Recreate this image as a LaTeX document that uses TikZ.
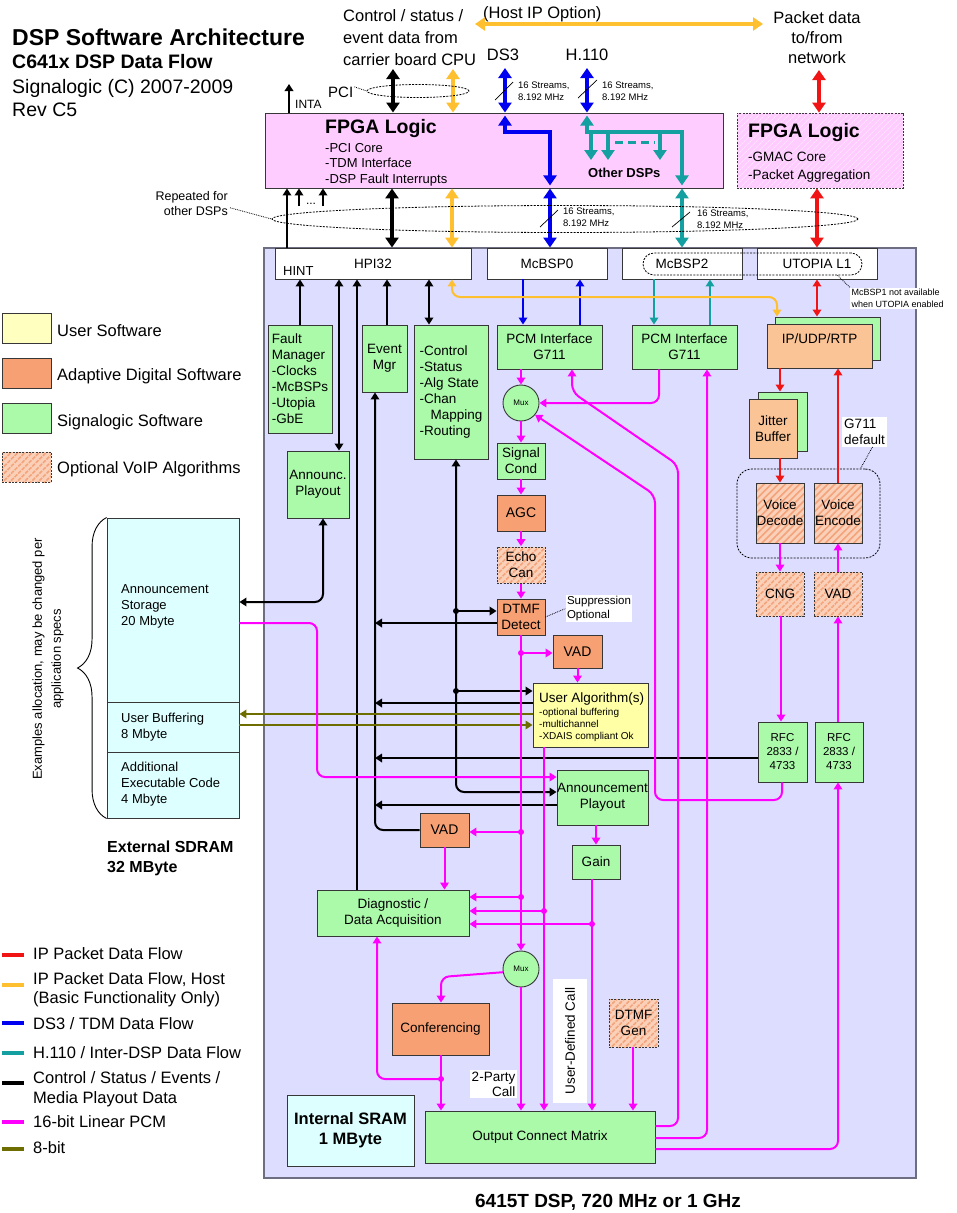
\documentclass[tikz,border=0pt]{standalone}
\usepackage{fontspec}
\setmainfont{Liberation Sans}
\usetikzlibrary{arrows.meta,patterns.meta,decorations.pathreplacing,calc,shapes.geometric}
\newcommand{\fz}[2]{\fontsize{#1}{#2}\selectfont}
\definecolor{sgreen}{RGB}{170,250,170}
\definecolor{adorange}{RGB}{247,160,115}
\definecolor{peach}{RGB}{250,196,150}
\definecolor{hatchbg}{RGB}{251,208,184}
\definecolor{hatchln}{RGB}{243,162,122}
\definecolor{uyellow}{RGB}{255,255,165}
\definecolor{lav}{RGB}{221,221,255}
\definecolor{lcyan}{RGB}{221,255,255}
\definecolor{fpink}{RGB}{255,204,255}
\definecolor{fpinkln}{RGB}{255,228,255}
\definecolor{cred}{RGB}{240,20,20}
\definecolor{cyel}{RGB}{255,192,48}
\definecolor{cblue}{RGB}{0,0,240}
\definecolor{cteal}{RGB}{20,160,160}
\definecolor{cmag}{RGB}{255,0,255}
\definecolor{colive}{RGB}{110,110,0}
\definecolor{bord}{RGB}{55,55,55}
\definecolor{dspb}{RGB}{110,110,130}
\tikzset{
  txt/.style={inner sep=0pt, anchor=base west},
  txc/.style={inner sep=0pt, anchor=base},
  txe/.style={inner sep=0pt, anchor=base east},
  bx/.style={draw=bord, line width=0.9pt, inner sep=0pt, align=center, font=\fz{13.5}{16}},
  gbox/.style={bx, fill=sgreen},
  obox/.style={bx, fill=adorange},
  pbox/.style={bx, fill=peach},
  ybox/.style={bx, fill=uyellow},
  wbox/.style={bx, fill=white},
  cbox/.style={bx, fill=lcyan},
  hbox/.style={bx, preaction={fill=hatchbg}, pattern={Lines[angle=45,distance=5pt,line width=1.6pt]}, pattern color=hatchln},
  dbord/.style={dash pattern=on 2pt off 1.3pt},
  arr/.style={-{Triangle[length=7pt,width=8.5pt]}},
  arr2/.style={{Triangle[length=7pt,width=8.5pt]}-{Triangle[length=7pt,width=8.5pt]}},
  tarr/.style={-{Triangle[length=10pt,width=13pt]}},
  tarr2/.style={{Triangle[length=10pt,width=13pt]}-{Triangle[length=10pt,width=13pt]}},
  blk/.style={line width=2pt, draw=black},
  mg/.style={line width=2pt, draw=cmag},
  rd/.style={line width=2pt, draw=cred},
  yl/.style={line width=2pt, draw=cyel},
  bl/.style={line width=2pt, draw=cblue},
  tl/.style={line width=2pt, draw=cteal},
  olv/.style={line width=2pt, draw=colive},
  thk/.style={line width=4pt},
  lgline/.style={line width=3.5pt},
  rc/.style={rounded corners=8pt},
}
\begin{document}
\begin{tikzpicture}[x=1pt,y=-1pt]
\fill[white] (0,0) rectangle (956,1213);
\path[use as bounding box] (0,0) rectangle (956,1213);

% ---------- titles ----------
\node[txt, font=\fz{23}{26}\bfseries] (t1) at (12,45) {DSP Software Architecture};
\node[txt, font=\fz{19.5}{22}\bfseries] (t2) at (12,68) {C641x DSP Data Flow};
\node[txt, font=\fz{19.5}{22}] (t3) at (12,93) {Signalogic (C) 2007-2009};
\node[txt, font=\fz{19.5}{22}] (t4) at (12,116) {Rev C5};

\node[txt, font=\fz{16.5}{20}] (c1) at (343,21) {Control / status /};
\node[txt, font=\fz{16.5}{20}] (c2) at (343,43) {event data from};
\node[txt, font=\fz{16.5}{20}] (c3) at (343,65) {carrier board CPU};
\node[txt, font=\fz{16.5}{20}] (host) at (483,18) {(Host IP Option)};
\node[txc, font=\fz{16.5}{20}] (p1) at (817,23) {Packet data};
\node[txc, font=\fz{16.5}{20}] (p2) at (817,43) {to/from};
\node[txc, font=\fz{16.5}{20}] (p3) at (817,63) {network};
\node[txc, font=\fz{16.5}{20}] (ds3) at (503,60) {DS3};
\node[txc, font=\fz{16.5}{20}] (h110) at (587,60) {H.110};

% ---------- DSP background ----------
\node[draw=dspb, fill=lav, line width=1.5pt, minimum width=652pt, minimum height=930pt, inner sep=0pt] (dsp) at (590,713) {};
\node[txc, font=\fz{19}{22}\bfseries] (dspcap) at (608,1207) {6415T DSP, 720 MHz or 1 GHz};

% ---------- FPGA ----------
\node[bx, fill=fpink, minimum width=458pt, minimum height=75pt] (fpga) at (494,150.5) {};
\node[txt, font=\fz{19.5}{22}\bfseries] at (325,133) {FPGA Logic};
\node[txt, font=\fz{13}{15}] at (325,152) {-PCI Core};
\node[txt, font=\fz{13}{15}] at (325,167) {-TDM Interface};
\node[txt, font=\fz{13}{15}] at (325,183) {-DSP Fault Interrupts};
\node[txt, font=\fz{13}{15}\bfseries] (odsp) at (588,177) {Other DSPs};

\node[draw=bord, line width=0.9pt, dbord, preaction={fill=fpink}, pattern={Lines[angle=45,distance=4pt,line width=0.7pt]}, pattern color=fpinkln, minimum width=166pt, minimum height=75pt, inner sep=0pt] (fpga2) at (820,150.5) {};
\node[txt, font=\fz{19.5}{22}\bfseries] at (748,137) {FPGA Logic};
\node[txt, font=\fz{13.5}{16}] at (748,161) {-GMAC Core};
\node[txt, font=\fz{13.5}{16}] at (748,179) {-Packet Aggregation};

% ---------- interfaces ----------
\node[wbox, minimum width=196pt, minimum height=31pt] (hpi) at (373,263.5) {HPI32};
\node[txt, font=\fz{13}{15}] (hint) at (283,275) {HINT};
\node[wbox, minimum width=120pt, minimum height=31pt] (mcb0) at (547,263.5) {McBSP0};
\node[wbox, minimum width=120pt, minimum height=31pt] (mcb2) at (682,263.5) {McBSP2};
\node[wbox, minimum width=120pt, minimum height=31pt] (utop) at (817,263.5) {UTOPIA L1};
\node[draw=black, line width=0.8pt, dbord, rounded corners=11pt, minimum width=219pt, minimum height=22pt, inner sep=0pt] (stad) at (752.5,264) {};
\node[fill=white, inner sep=1.5pt, align=left, anchor=west, font=\fz{9}{12}] (mcnote) at (850,298.5) {McBSP1 not available\\when UTOPIA enabled};
\draw[densely dotted, line width=0.8pt] ($(stad.south)+(85,0)$) -- (mcnote.north west);

% ---------- left column ----------
\node[gbox, minimum width=64pt, minimum height=108pt, align=left] (fault) at (300,379) {Fault\\Manager\\-Clocks\\-McBSPs\\-Utopia\\-GbE};
\node[gbox, minimum width=62pt, minimum height=67pt] (annp) at (318,484.5) {Announc.\\Playout};
\node[gbox, minimum width=45pt, minimum height=67pt] (evt) at (384.5,358.5) {Event\\Mgr};
\node[gbox, minimum width=74pt, minimum height=134pt, align=left] (ctrl) at (451,392) {-Control\\-Status\\-Alg State\\-Chan\\\hspace*{11pt}Mapping\\-Routing};

% ---------- centre column ----------
\node[gbox, minimum width=105pt, minimum height=44pt] (pcml) at (549.5,347) {PCM Interface\\G711};
\node[gbox, minimum width=105pt, minimum height=44pt] (pcmr) at (684.5,347) {PCM Interface\\G711};
\node[gbox, circle, minimum size=36pt, font=\fz{8}{9}] (mux1) at (521,403) {Mux};
\node[gbox, minimum width=48pt, minimum height=36pt] (sig) at (521,461) {Signal\\Cond};
\node[obox, minimum width=48pt, minimum height=36pt, font=\fz{14}{16}] (agc) at (521,513) {AGC};
\node[hbox, dbord, minimum width=48pt, minimum height=36pt] (echo) at (521,565) {Echo\\Can};
\node[obox, minimum width=48pt, minimum height=36pt] (dtmfd) at (521,617) {DTMF\\Detect};
\node[obox, minimum width=49pt, minimum height=33pt, font=\fz{14}{16}] (vad1) at (577.5,651.5) {VAD};
\node[ybox, minimum width=115pt, minimum height=64pt] (ua) at (590.5,715) {};
\node[txt, font=\fz{13.5}{16}] at (539,702) {User Algorithm(s)};
\node[txt, font=\fz{10}{12}] at (539,715) {-optional buffering};
\node[txt, font=\fz{10}{12}] at (539,727) {-multichannel};
\node[txt, font=\fz{10}{12}] at (539,739) {-XDAIS compliant Ok};
\node[gbox, minimum width=91pt, minimum height=55pt] (annpl) at (602.5,797.5) {Announcement\\Playout};
\node[gbox, minimum width=48pt, minimum height=34pt] (gain) at (596,862) {Gain};
\node[obox, minimum width=49pt, minimum height=34pt, font=\fz{14}{16}] (vad2) at (444.5,830) {VAD};
\node[gbox, minimum width=152pt, minimum height=46pt] (diag) at (393,913) {Diagnostic /\\Data Acquisition};
\node[gbox, circle, minimum size=36pt, font=\fz{8}{9}] (mux2) at (521,969) {Mux};
\node[obox, minimum width=97pt, minimum height=52pt] (conf) at (440.5,1029) {Conferencing};
\node[hbox, dbord, minimum width=49pt, minimum height=48pt] (dtmfg) at (633.5,1023) {DTMF\\Gen};
\node[gbox, minimum width=230pt, minimum height=52pt] (ocm) at (540,1137) {Output Connect Matrix};
\node[cbox, minimum width=127pt, minimum height=71pt, font=\fz{16.5}{20}\bfseries] (sram) at (350.5,1130.5) {Internal SRAM\\1 MByte};
\node[fill=white, inner sep=1.5pt, align=left, font=\fz{11.5}{13.5}] (supp) at (599,608.5) {Suppression\\Optional};
\draw[densely dotted, line width=0.8pt] (dtmfd.east) -- (supp.west);
\node[fill=white, inner sep=1.5pt, align=right, font=\fz{13.5}{15}] (twop) at (493.5,1084) {2-Party\\Call};
\node[fill=white, rotate=90, inner sep=0pt, minimum width=124pt, minimum height=34pt, font=\fz{13.5}{16}] (udc) at (570,1041) {User-Defined Call};

% ---------- right column ----------
\node[gbox, minimum width=105pt, minimum height=43pt] (ipus) at (827.5,338.5) {};
\node[pbox, minimum width=105pt, minimum height=44pt] (ipu) at (819.5,346) {};
\node[txc, font=\fz{13.5}{16}] at (819.5,343) {IP/UDP/RTP};
\node[gbox, minimum width=49pt, minimum height=59pt] (jits) at (782.5,421.5) {};
\node[pbox, minimum width=48pt, minimum height=59pt] (jit) at (773,428.5) {Jitter\\Buffer};
\node[draw=black, line width=0.8pt, dbord, rounded corners=15pt, minimum width=143pt, minimum height=89pt, inner sep=0pt] (grp) at (808.5,513.5) {};
\node[hbox, minimum width=48pt, minimum height=60pt] (vdec) at (780,513) {Voice\\Decode};
\node[hbox, minimum width=48pt, minimum height=60pt] (venc) at (838,513) {Voice\\Encode};
\node[fill=white, inner sep=2pt, align=left, font=\fz{13.5}{16}] (g711) at (864.5,432) {G711\\default};
\draw[densely dotted, line width=0.8pt] ($(g711.south)+(8,0)$) -- ($(grp.north)+(52,0)$);
\node[hbox, dbord, minimum width=48pt, minimum height=44pt] (cng) at (780,594) {CNG};
\node[hbox, dbord, minimum width=48pt, minimum height=44pt] (vad3) at (838,594) {VAD};
\node[gbox, minimum width=49pt, minimum height=60pt, font=\fz{11.5}{14}] (rfc1) at (782.5,752) {RFC\\2833 /\\4733};
\node[gbox, minimum width=48pt, minimum height=60pt, font=\fz{11.5}{14}] (rfc2) at (839,752) {RFC\\2833 /\\4733};

% ---------- SDRAM ----------
\node[cbox, minimum width=132pt, minimum height=184pt] (sdr1) at (173,610) {};
\node[cbox, minimum width=132pt, minimum height=50pt] (sdr2) at (173,727) {};
\node[cbox, minimum width=132pt, minimum height=66pt] (sdr3) at (173,785) {};
\node[txt, font=\fz{13}{16}] at (121,593) {Announcement};
\node[txt, font=\fz{13}{16}] at (121,609) {Storage};
\node[txt, font=\fz{13}{16}] at (121,625) {20 Mbyte};
\node[txt, font=\fz{13}{16}] at (121,722) {User Buffering};
\node[txt, font=\fz{13}{16}] at (121,738) {8 Mbyte};
\node[txt, font=\fz{13}{16}] at (121,771) {Additional};
\node[txt, font=\fz{13}{16}] at (121,787) {Executable Code};
\node[txt, font=\fz{13}{16}] at (121,803) {4 Mbyte};
\draw[decorate, decoration={brace, amplitude=29pt}, line width=0.9pt] (sdr3.south west) -- (sdr1.north west);
\node[rotate=90, align=center, inner sep=0pt, font=\fz{13}{19}] (exal) at (48,659) {Examples allocation, may be changed per\\application specs};
\node[txt, font=\fz{16}{20}\bfseries] at (107,852) {External SDRAM};
\node[txt, font=\fz{16}{20}\bfseries] at (107,872) {32 MByte};

% ---------- legends ----------
\node[bx, fill=uyellow!70!white, minimum width=49pt, minimum height=30pt] (lg1) at (26.5,328) {};
\node[obox, minimum width=49pt, minimum height=30pt] (lg2) at (26.5,373) {};
\node[gbox, minimum width=49pt, minimum height=30pt] (lg3) at (26.5,418) {};
\node[hbox, dbord, minimum width=49pt, minimum height=30pt] (lg4) at (26.5,467) {};
\node[txt, font=\fz{16.5}{19}] at (57,336) {User Software};
\node[txt, font=\fz{16.5}{19}] at (57,380) {Adaptive Digital Software};
\node[txt, font=\fz{16.5}{19}] at (57,426) {Signalogic Software};
\node[txt, font=\fz{16.5}{19}] at (57,473) {Optional VoIP Algorithms};

\draw[lgline, cred] (2,955) -- (24,955);
\draw[lgline, cyel] (2,985) -- (24,985);
\draw[lgline, cblue] (2,1023) -- (24,1023);
\draw[lgline, cteal] (2,1053) -- (24,1053);
\draw[lgline, black] (2,1083) -- (24,1083);
\draw[lgline, cmag] (2,1122) -- (24,1122);
\draw[lgline, colive] (2,1149) -- (24,1149);
\node[txt, font=\fz{16.5}{19}] at (33,959) {IP Packet Data Flow};
\node[txt, font=\fz{16.5}{19}] at (33,984) {IP Packet Data Flow, Host};
\node[txt, font=\fz{16.5}{19}] at (33,1003) {(Basic Functionality Only)};
\node[txt, font=\fz{16.5}{19}] at (33,1029) {DS3 / TDM Data Flow};
\node[txt, font=\fz{16.5}{19}] at (33,1058) {H.110 / Inter-DSP Data Flow};
\node[txt, font=\fz{16.5}{19}] at (33,1083) {Control / Status / Events /};
\node[txt, font=\fz{16.5}{19}] at (33,1103) {Media Playout Data};
\node[txt, font=\fz{16.5}{19}] at (33,1127) {16-bit Linear PCM};
\node[txt, font=\fz{16.5}{19}] at (33,1153) {8-bit};

% ---------- thick external connectors ----------
\coordinate (hostL) at (475,24);
\coordinate (hostR) at (763,24);
\draw[yl, line width=3.5pt, tarr2] (hostL) -- (hostR);
\coordinate (pciT) at (393,69);
\coordinate (yelT) at (453,69);
\coordinate (ds3T) at (505,68);
\coordinate (h110T) at (587,68);
\coordinate (netT) at (819,70);
\draw[thk, black, tarr2] (pciT) -- (pciT |- fpga.north);
\draw[thk, cyel, line width=3.5pt, tarr2] (yelT) -- (yelT |- fpga.north);
\draw[thk, cblue, tarr2] (ds3T) -- (ds3T |- fpga.north);
\draw[thk, cblue, tarr2] (h110T) -- (h110T |- fpga.north);
\draw[thk, cred, line width=3.5pt, tarr2] (netT) -- (netT |- fpga2.north);
\draw[thk, black, tarr2] (hpi.north -| 392,0) -- (fpga.south -| 392,0);
\draw[thk, cyel, line width=3.5pt, tarr2] (hpi.north -| 452,0) -- (fpga.south -| 452,0);
\draw[thk, cblue, tarr2] (mcb0.north -| 550,0) -- (fpga.south -| 550,0);
\draw[thk, cteal, tarr2] (mcb2.north -| 682,0) -- (fpga.south -| 682,0);
\draw[thk, cred, line width=3.5pt, tarr2] (utop.north) -- (fpga2.south -| utop.north);
% inside FPGA
\draw[thk, cblue, tarr2] ($(fpga.north -| 505,0)+(0,3)$) -- (505,132) -- (550,132) -- ($(fpga.south -| 550,0)+(0,-3)$);
\draw[thk, cteal, tarr2] ($(fpga.north -| 587,0)+(0,3)$) -- (587,132) -- (682,132) -- ($(fpga.south -| 682,0)+(0,-3)$);
\draw[thk, cteal, tarr] (591,132) -- (591,160);
\draw[thk, cteal, tarr] (608,132) -- (608,160);
\draw[thk, cteal, tarr] (660,132) -- (660,160);
\draw[cteal, line width=3pt, dash pattern=on 8pt off 5pt] (615,142) -- (655,142);

% stream marks
\draw[line width=0.7pt] (495,100) -- (513,82);
\draw[line width=0.7pt] (578,98) -- (597,80);
\draw[line width=0.7pt] (540,227) -- (558,210);
\draw[line width=0.7pt] (672,227) -- (690,212);
\node[txt, font=\fz{9.5}{12}] at (518,88) {16 Streams,};
\node[txt, font=\fz{9.5}{12}] at (518,100) {8.192 MHz};
\node[txt, font=\fz{9.5}{12}] at (602,88) {16 Streams,};
\node[txt, font=\fz{9.5}{12}] at (602,100) {8.192 MHz};
\node[txt, font=\fz{9.5}{12}] at (563,214) {16 Streams,};
\node[txt, font=\fz{9.5}{12}] at (563,226) {8.192 MHz};
\node[txt, font=\fz{9.5}{12}] at (697,216) {16 Streams,};
\node[txt, font=\fz{9.5}{12}] at (697,228) {8.192 MHz};

% thin black top
\coordinate (intaT) at (289,84);
\draw[blk, arr] (fpga.north -| intaT) -- (intaT);
\node[txt, font=\fz{12}{14}] (inta) at (295,108) {INTA};
\draw[blk, arr] (hpi.north -| 287,0) -- (fpga.south -| 287,0);
\coordinate (s1) at (299,206);
\coordinate (s2) at (323,206);
\draw[blk, arr] (s1) -- (fpga.south -| s1);
\draw[blk, arr] (s2) -- (fpga.south -| s2);
\node[txc, font=\fz{12}{14}] at (311,204) {...};

% ellipses and labels
\node[txt, font=\fz{15}{18}] (pcil) at (328,97) {PCI};
\node[ellipse, draw, dbord, line width=0.8pt, minimum width=102pt, minimum height=13pt, inner sep=0pt] (pciell) at (418,91) {};
\draw[densely dotted, line width=0.8pt] ($(pcil.east)+(1,-5)$) -- (pciell.west);
\node[ellipse, draw, dbord, line width=0.8pt, minimum width=586pt, minimum height=27pt, inner sep=0pt] (rep) at (565,219) {};
\node[txe, font=\fz{12.5}{15}] (rep1) at (228,200) {Repeated for};
\node[txe, font=\fz{12.5}{15}] (rep2) at (228,215) {other DSPs};
\draw[densely dotted, line width=0.8pt] ($(rep2.north east)+(2,2)$) -- (rep.west);

% ---------- black control connectors ----------
\draw[blk, arr] (fault.north) -- (fault.north |- hpi.south);
\draw[blk, arr2] (annp.north -| 339,0) -- (hpi.south -| 339,0);
\draw[blk, arr] (diag.north -| 357,0) -- (hpi.south -| 357,0);
\draw[blk, arr] (evt.north -| 387,0) -- (hpi.south -| 387,0);
\draw[blk, arr2] (ctrl.north -| 429,0) -- (hpi.south -| 429,0);
\draw[blk, arr, rc] (vad2.west) -- (375,830) -- (evt.south -| 375,0);
\draw[blk, arr2, rc] (annpl.west |- 0,792) -- (456,792) -- (ctrl.south -| 456,0);
\draw[blk, arr] (456,611) -- (dtmfd.west |- 0,611);
\draw[blk, arr] (456,691) -- (ua.west |- 0,691);
\fill (456,611) circle (3pt);
\fill (456,691) circle (3pt);
\draw[blk, arr] (dtmfd.west |- 0,623) -- (375,623);
\draw[blk, arr] (ua.west |- 0,703) -- (375,703);
\draw[blk, arr] (rfc1.west |- 0,758) -- (375,758);
\draw[blk, arr] (annpl.west |- 0,805) -- (375,805);
\draw[blk, arr2, rc] (annp.south -| 323,0) -- (323,602) -- (sdr1.east |- 0,602);
% olive
\draw[olv, arr] (ua.west |- 0,714) -- (sdr2.east |- 0,714);
\draw[olv, arr] (sdr2.east |- 0,725) -- (ua.west |- 0,725);

% ---------- blue / teal / red / yellow thin ----------
\draw[bl, arr] (mcb0.south -| 523,0) -- (pcml.north -| 523,0);
\draw[bl, arr] (pcml.north -| 580,0) -- (mcb0.south -| 580,0);
\draw[tl, arr] (mcb2.south -| 654,0) -- (pcmr.north -| 654,0);
\draw[tl, arr] (pcmr.north -| 710,0) -- (mcb2.south -| 710,0);
\draw[yl, arr2, rc] (hpi.south -| 452,0) -- (452,297) -- (777,297) -- (ipus.north -| 777,0);
\draw[rd, arr2] (utop.south) -- (utop.south |- ipus.north);
\draw[rd, arr] (ipu.south -| 780,0) -- (jits.north -| 780,0);
\draw[rd, arr] (jit.south -| 780,0) -- (vdec.north);
\draw[rd, arr] (venc.north) -- (ipu.south -| venc.north);

% ---------- magenta PCM ----------
\draw[mg, arr] (pcml.south -| mux1.north) -- (mux1.north);
\draw[mg, arr] (mux1.south) -- (sig.north);
\draw[mg, arr] (sig.south) -- (agc.north);
\draw[mg, arr] (agc.south) -- (echo.north);
\draw[mg, arr] (echo.south) -- (dtmfd.north);
\draw[mg, arr] (dtmfd.south) -- (mux2.north);
\draw[mg, arr] (521,653) -- (vad1.west |- 0,653);
\draw[mg, arr] (521,832) -- (vad2.east |- 0,832);
\draw[mg, arr] (521,897) -- (diag.east |- 0,897);
\draw[mg, arr] (vad1.south) -- (vad1.south |- ua.north);
\draw[mg, arr] (ua.south -| 544,0) -- (ocm.north -| 544,0);
\draw[mg, arr] (544,911) -- (diag.east |- 0,911);
\draw[mg, arr] (annpl.south -| gain.north) -- (gain.north);
\draw[mg, arr] (gain.south -| 592,0) -- (ocm.north -| 592,0);
\draw[mg, arr] (592,924) -- (diag.east |- 0,924);
\draw[mg, arr] (vad2.south) -- (vad2.south |- diag.north);
\draw[mg, arr, rc] (mux2.190) -- (441,977) -- (conf.north -| 441,0);
\draw[mg, arr] (mux2.south) -- (mux2.south |- ocm.north);
\draw[mg, arr] (conf.south -| 441,0) -- (ocm.north -| 441,0);
\draw[mg, arr, rc] (441,1079) -- (377,1079) -- (diag.south -| 377,0);
\draw[mg, arr] (dtmfg.south -| 633,0) -- (ocm.north -| 633,0);
\draw[mg, arr, rc] (pcmr.south -| 659,0) -- (659,403) -- (mux1.east);
\draw[mg, arr, rc] (ocm.east |- 0,1126) -- (678,1126) -- (678,465) -- (572,392) -- (pcml.south -| 572,0);
\draw[mg, arr, rc] (rfc1.south -| 782,0) -- (782,800) -- (655,800) -- (655,495) -- (mux1.-40);
\draw[mg, arr, rc] (ocm.east |- 0,1138) -- (707,1138) -- (pcmr.south -| 707,0);
\draw[mg, arr, rc] (ocm.east |- 0,1149) -- (838,1149) -- (rfc2.south -| 838,0);
\draw[mg, arr, rc] (sdr1.east |- 0,623) -- (317,623) -- (317,777) -- (annpl.west |- 0,777);
\draw[mg, arr] (vdec.south) -- (cng.north);
\draw[mg, arr] (cng.south -| 781,0) -- (rfc1.north -| 781,0);
\draw[mg, arr] (rfc2.north -| 838,0) -- (vad3.south -| 838,0);
\draw[mg, arr] (vad3.north) -- (venc.south);
\foreach \p in {(521,653),(521,832),(521,897),(544,911),(592,924),(441,1079)}
  \fill[cmag] \p circle (3pt);
\end{tikzpicture}
\end{document}
